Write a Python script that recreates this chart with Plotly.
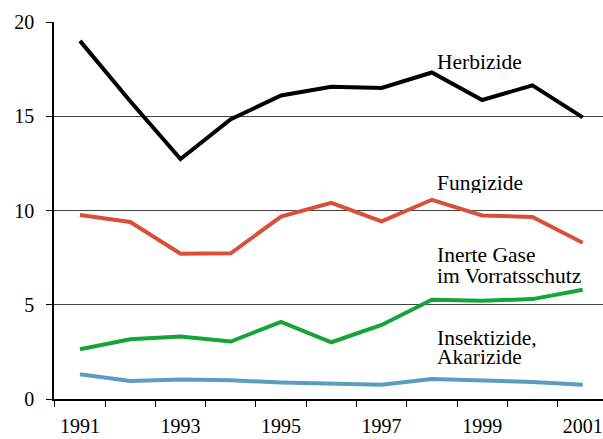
import plotly.graph_objects as go

years = list(range(1991, 2002))
herbizide = [19.0, 15.8, 12.73, 14.84, 16.1, 16.56, 16.5, 17.32, 15.86, 16.64, 14.94]
fungizide = [9.76, 9.39, 7.71, 7.73, 9.68, 10.41, 9.42, 10.57, 9.74, 9.66, 8.29]
inerte_gase = [2.64, 3.17, 3.32, 3.05, 4.09, 3.01, 3.93, 5.27, 5.21, 5.3, 5.8]
insektizide = [1.31, 0.96, 1.03, 0.99, 0.88, 0.82, 0.76, 1.06, 0.99, 0.9, 0.76]

x_ticks = [1991, 1993, 1995, 1997, 1999, 2001]
y_ticks = [0, 5, 10, 15, 20]

series = [
    (herbizide, '#000000'),
    (fungizide, '#d9503a'),
    (inerte_gase, '#16a33a'),
    (insektizide, '#5b9cc6'),
]

# one entry per text line, so the line spacing can follow the original
labels = [
    ('Herbizide', 17.9),
    ('Fungizide', 11.45),
    ('Inerte Gase', 7.64),
    ('im Vorratsschutz', 6.53),
    ('Insektizide,', 3.26),
    ('Akarizide', 2.23),
]

serif = 'Liberation Serif, Times New Roman, serif'
label_font = dict(family=serif, size=21.5, color='black')
tick_font = dict(family=serif, size=20, color='black')

fig = go.Figure()
for values, color in series:
    fig.add_trace(go.Scatter(x=years, y=values, mode='lines',
                             line=dict(color=color, width=4), showlegend=False))
for text, label_y in labels:
    fig.add_annotation(x=1998.06, y=label_y, text=text, showarrow=False,
                       xanchor='left', yanchor='middle', align='left',
                       height=20, valign='middle', font=label_font)

fig.update_layout(
    width=603, height=439,
    margin=dict(l=54, r=0, t=22, b=40),
    plot_bgcolor='white', paper_bgcolor='white',
    font=tick_font,
)
fig.update_xaxes(range=[1990.483, 2001.404], tickvals=x_ticks, ticks='', ticklen=0,
                 showgrid=False, showline=True, linecolor='black', linewidth=2,
                 ticklabelstandoff=8, ticklabeloverflow='allow', tickfont=tick_font,
                 zeroline=False, automargin=False,
                 minor=dict(tickvals=[y + 0.5 for y in range(1990, 2001)],
                            ticks='outside', ticklen=6, tickcolor='black', tickwidth=1))
fig.update_yaxes(range=[0, 20], tickvals=y_ticks, ticks='outside', ticklen=6,
                 tickcolor='black', showgrid=True, gridcolor='#444444', gridwidth=1,
                 showline=True, linecolor='black', linewidth=1.5, zeroline=False,
                 ticklabelstandoff=8, tickfont=tick_font, automargin=False)

# drop the page's default body margin so the figure fills the window exactly
fig.write_html("out.html", config={'displayModeBar': False}, post_script=(
    "document.body.style.margin='0';"
    "document.documentElement.style.overflow='hidden';"))
